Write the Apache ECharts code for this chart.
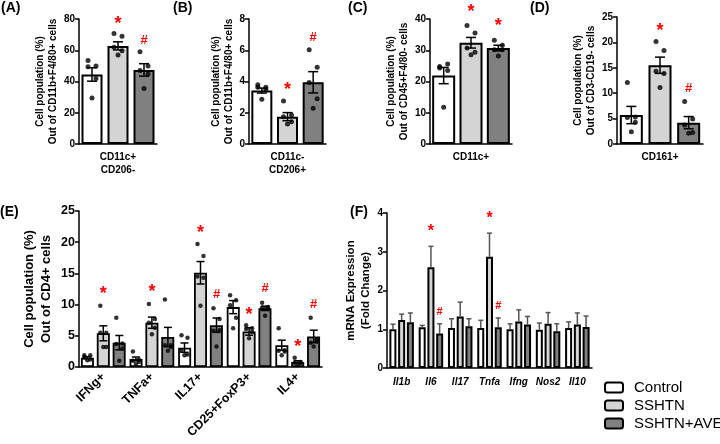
<!DOCTYPE html>
<html>
<head>
<meta charset="utf-8">
<script src="https://cdn.jsdelivr.net/npm/echarts@6/dist/echarts.min.js"></script>
<style>html,body{margin:0;padding:0;background:#fff}#container{width:720px;height:444px}</style>
</head>
<body>
<div id="container"></div>
<script>
var groups = ['Control', 'SSHTN', 'SSHTN+AVE'];

// (A) CD11c+CD206- out of CD11b+F4/80+
var aMean = [44.5, 62.8, 47.4];
var aSem = [4.3, 2.6, 4.0];
var aDots = [[53.5, 50, 49.5, 42, 29.5], [70.8, 69, 62, 59.7, 57], [59, 50, 47, 44.8, 35.6]];
var aMarks = [[1, 79, '*'], [2, 66.5, '#']];

// (B) CD11c-CD206+ out of CD11b+F4/80+
var bMean = [3.42, 1.75, 3.95];
var bSem = [0.16, 0.26, 0.68];
var bDots = [[3.64, 3.64, 3.8, 3.5, 2.87], [2.76, 1.86, 1.75, 1.43, 1.28], [6.03, 4.92, 3.94, 2.89, 2.29]];
var bMarks = [[1, 3.65, '*'], [2, 6.85, '#']];

// (C) CD11c+ out of CD45+F4/80-
var cMean = [21.9, 32.4, 30.7];
var cSem = [2.6, 1.7, 0.9];
var cDots = [[24.8, 25.6, 24.3, 23.5, 11.8], [37.9, 35.5, 30.7, 29.4, 28.6], [33.2, 31.6, 30.2, 30.2, 28.2]];
var cMarks = [[1, 43.2, '*'], [2, 38.9, '*']];

// (D) CD161+ out of CD3-CD19-
var dMean = [5.7, 15.5, 4.2];
var dSem = [1.7, 1.6, 1.2];
var dDots = [[12.1, 5.3, 5.2, 4.3, 2.4], [20.2, 18.4, 14.3, 13.9, 11.1], [8.35, 4.9, 3.75, 2.24, 2.1]];
var dMarks = [[1, 22.8, '*'], [2, 11, '#']];

// (E) out of CD4+
var eCats = ['IFNg+', 'TNFa+', 'IL17+', 'CD25+FoxP3+', 'IL4+'];
var eMean = [[1.5, 1.3, 3.1, 9.6, 3.5], [5.4, 7.1, 15.1, 5.7, 0.8], [3.9, 4.8, 6.7, 9.4, 4.9]];
var eSem = [[0.15, 0.3, 0.75, 1.05, 0.8], [1.2, 0.9, 1.8, 0.6, 0.2], [1.15, 1.55, 1.15, 0.35, 1.0]];
var eDotsCtrl = [[1.9, 1.9, 1.6, 1.2, 1.1], [2.5, 1.2, 1.0, 0.8, 0.5], [5.1, 4.7, 2.6, 2.0, 1.9], [11.5, 10.7, 9.9, 7.9, 6.2], [6.2, 2.7, 2.6, 2.5, 1.9]];
var eDotsSshtn = [[9.8, 5.5, 5.5, 3.2, 3.2], [10.1, 7.7, 7.1, 6.3, 5.25], [19.7, 17.8, 14.5, 14.3, 9.8], [6.7, 6.2, 6.1, 5.6, 4.6], [1.5, 0.8, 0.7, 0.6, 0.4]];
var eDotsAve = [[7.9, 3.75, 3.7, 2.95, 1.0], [10.8, 3.5, 3.5, 3.2, 2.6], [9.4, 7.7, 5.8, 5.9, 3.3], [10.3, 9.6, 9.5, 9.3, 8.2], [7.9, 4.4, 3.9, 4.1, 3.3]];
var eMarks = [[0, 1, 12.2, '*'], [1, 1, 12.5, '*'], [2, 1, 22, '*'], [2, 2, 11.7, '#'], [3, 1, 8.8, '*'], [3, 2, 12.6, '#'], [4, 1, 3.75, '*'], [4, 2, 10, '#']];

// (F) mRNA fold change
var fCats = ['Il1b', 'Il6', 'Il17', 'Tnfa', 'Ifng', 'Nos2', 'Il10'];
var fMean = [[1.0, 1.05, 1.03, 1.03, 1.0, 0.99, 1.03], [1.24, 2.6, 1.33, 2.87, 1.2, 1.14, 1.12], [1.18, 0.89, 1.08, 1.05, 1.12, 0.95, 1.06]];
var fSem = [[0.13, 0.05, 0.24, 0.2, 0.14, 0.17, 0.16], [0.15, 0.54, 0.37, 0.61, 0.3, 0.29, 0.3], [0.24, 0.25, 0.19, 0.24, 0.21, 0.19, 0.28]];
var fMarks = [[1, 1, 3.59, '*'], [1, 2, 1.45, '#'], [3, 1, 3.92, '*'], [3, 2, 1.61, '#']];

var FONT = 'Liberation Sans, Arial, sans-serif';
var colors = ['#ffffff', '#d4d4d4', '#808080'];
var jit = [-4, 4, -4, 4, 0];
var jitE = [-3, 3, -3, 3, 0];
var dxE = [-16, 0, 16];
var dxF = [-8.7, 0, 8.7];

var myChart = echarts.init(document.getElementById('container'));

function xSingle(i, label) {
	return {
		type: 'category', gridIndex: i, data: groups,
		axisLine: {lineStyle: {color: '#000', width: 1.5}},
		axisTick: {alignWithLabel: true, length: 4, interval: function (k) { return k === 1; }, lineStyle: {color: '#000', width: 1.5}},
		axisLabel: {interval: function (k) { return k === 1; }, formatter: function () { return label; },
			color: '#000', fontWeight: 'bold', fontSize: 10, fontFamily: FONT, lineHeight: 13, margin: 7}
	};
}
function yAx(i, max, step, name, gap, fs, nfs, lh) {
	return {
		type: 'value', gridIndex: i, min: 0, max: max, interval: step,
		name: name, nameLocation: 'middle', nameGap: gap,
		nameTextStyle: {color: '#000', fontWeight: 'bold', fontSize: nfs, fontFamily: FONT, lineHeight: lh},
		splitLine: {show: false},
		axisLine: {show: true, lineStyle: {color: '#000', width: 1.5}},
		axisTick: {show: true, length: 4, lineStyle: {color: '#000', width: 1.5}},
		axisLabel: {color: '#000', fontWeight: 'bold', fontSize: fs, fontFamily: FONT, margin: 4}
	};
}
function errBars(i, data, dx, cap, upperOnly, color) {
	return {
		type: 'custom', xAxisIndex: i, yAxisIndex: i, z: 4, silent: true, data: data,
		renderItem: function (params, api) {
			var g = api.value(3);
			var top = api.coord([api.value(0), api.value(1) + api.value(2)]);
			var bot = api.coord([api.value(0), upperOnly ? api.value(1) : api.value(1) - api.value(2)]);
			var x = top[0] + dx[g];
			var st = {stroke: color, lineWidth: 1.5};
			var ch = [
				{type: 'line', shape: {x1: x, y1: top[1], x2: x, y2: bot[1]}, style: st},
				{type: 'line', shape: {x1: x - cap, y1: top[1], x2: x + cap, y2: top[1]}, style: st}
			];
			if (!upperOnly) ch.push({type: 'line', shape: {x1: x - cap, y1: bot[1], x2: x + cap, y2: bot[1]}, style: st});
			return {type: 'group', children: ch};
		}
	};
}
function markSeries(i, list, dx, fs) {
	return {
		type: 'custom', xAxisIndex: i, yAxisIndex: i, z: 6, silent: true,
		data: list.map(function (m) { return [m[0], m[2], m[1]]; }),
		renderItem: function (params, api) {
			var p = api.coord([api.value(0), api.value(1)]);
			var t = list[params.dataIndex][3];
			var size = t === '*' ? fs + 5 : fs;
			// the asterisk glyph sits high in its box, so nudge it down
			var dy = t === '*' ? size * 0.18 : 0;
			return {type: 'text', x: p[0] + dx[api.value(2)], y: p[1] + dy,
				style: {text: t, fill: '#ff0000', font: 'bold ' + size + 'px ' + FONT,
					align: 'center', verticalAlign: 'middle'}};
		}
	};
}

var grids = [
	{left: 79, top: 19, width: 78, height: 125},
	{left: 249, top: 19, width: 77, height: 125},
	{left: 430, top: 19, width: 82, height: 125},
	{left: 617, top: 17, width: 86, height: 127},
	{left: 79, top: 211, width: 243, height: 156},
	{left: 387, top: 213, width: 205, height: 155}
];

var xAxes = [
	xSingle(0, 'CD11c+\nCD206-'),
	xSingle(1, 'CD11c-\nCD206+'),
	xSingle(2, 'CD11c+'),
	xSingle(3, 'CD161+'),
	{type: 'category', gridIndex: 4, data: eCats,
		axisLine: {lineStyle: {color: '#000', width: 1.5}},
		axisTick: {alignWithLabel: true, length: 4, lineStyle: {color: '#000', width: 1.5}},
		axisLabel: {interval: 0, rotate: 45, color: '#000', fontWeight: 'bold', fontSize: 12.5, fontFamily: FONT, margin: 8}},
	{type: 'category', gridIndex: 5, data: fCats,
		axisLine: {lineStyle: {color: '#000', width: 1.5}},
		axisTick: {alignWithLabel: true, length: 4, lineStyle: {color: '#000', width: 1.5}},
		axisLabel: {interval: 0, color: '#000', fontWeight: 'bold', fontStyle: 'italic', fontSize: 10, fontFamily: FONT, margin: 9}}
];
var yAxes = [
	yAx(0, 80, 20, 'Cell population (%)\nOut of CD11b+F4/80+ cells', 18, 10, 10, 13),
	yAx(1, 8, 2, 'Cell population (%)\nOut of CD11b+F4/80+ cells', 13, 10, 10, 13),
	yAx(2, 40, 10, 'Cell population (%)\nOut of CD45+F4/80- cells', 17, 10, 10, 13),
	yAx(3, 25, 5, 'Cell population (%)\nOut of CD3-CD19- cells', 14, 10, 10, 13),
	yAx(4, 25, 5, 'Cell population (%)\nOut of CD4+ cells', 24, 12.5, 13, 17),
	yAx(5, 4, 1, 'mRNA Expression\n(Fold Change)', 14, 10, 11.5, 15)
];

var series = [];
var single = [[aMean, aSem, aDots, aMarks], [bMean, bSem, bDots, bMarks], [cMean, cSem, cDots, cMarks], [dMean, dSem, dDots, dMarks]];
single.forEach(function (p, i) {
	series.push({
		type: 'bar', name: 'panel' + i, xAxisIndex: i, yAxisIndex: i, barWidth: i < 2 ? 21 : 23, z: 2,
		itemStyle: {borderColor: '#000', borderWidth: 2},
		data: p[0].map(function (v, k) { return {value: v, itemStyle: {color: colors[k]}}; })
	});
	series.push(errBars(i, p[1].map(function (s, k) { return [k, p[0][k], s, 0]; }), [0], 5, false, '#000'));
	var pts = [];
	p[2].forEach(function (arr, k) {
		arr.forEach(function (v, j) { pts.push({value: [k, v], symbolOffset: [jit[j], 0]}); });
	});
	series.push({type: 'scatter', name: 'dots' + i, xAxisIndex: i, yAxisIndex: i, z: 5, symbolSize: 5,
		itemStyle: {color: '#000'}, data: pts, silent: true});
	series.push(markSeries(i, p[3].map(function (m) { return [m[0], m[0], m[1], m[2]]; }), [0, 0, 0], 13));
});

var eDots = [eDotsCtrl, eDotsSshtn, eDotsAve];
groups.forEach(function (g, k) {
	series.push({type: 'bar', name: g, xAxisIndex: 4, yAxisIndex: 4, barWidth: 13, barGap: '22%', z: 2,
		itemStyle: {color: colors[k], borderColor: '#000', borderWidth: 1.8}, data: eMean[k]});
	series.push(errBars(4, eSem[k].map(function (s, c) { return [c, eMean[k][c], s, k]; }), dxE, 4, false, '#000'));
	var pts = [];
	eDots[k].forEach(function (arr, c) {
		arr.forEach(function (v, j) { pts.push({value: [c, v], symbolOffset: [dxE[k] + jitE[j], 0]}); });
	});
	series.push({type: 'scatter', name: 'edots' + k, xAxisIndex: 4, yAxisIndex: 4, z: 5, symbolSize: 4.5,
		itemStyle: {color: '#000'}, data: pts, silent: true});
});
series.push(markSeries(4, eMarks, dxE, 13));

groups.forEach(function (g, k) {
	series.push({type: 'bar', name: g, xAxisIndex: 5, yAxisIndex: 5, barWidth: 7, barGap: '25%', z: 3,
		itemStyle: {color: colors[k], borderColor: '#000', borderWidth: 2}, data: fMean[k]});
	series.push(errBars(5, fSem[k].map(function (s, c) { return [c, fMean[k][c], s, k]; }), dxF, 2.5, true, '#555'));
});
series.push(markSeries(5, fMarks, dxF, 11));

var letters = [['(A)', 1, 1], ['(B)', 173, 1], ['(C)', 348, 1], ['(D)', 530, 1], ['(E)', 0, 205], ['(F)', 350, 205]];

var option = {
	animation: false,
	backgroundColor: '#fff',
	textStyle: {fontFamily: FONT},
	grid: grids,
	xAxis: xAxes,
	yAxis: yAxes,
	legend: {
		data: groups, orient: 'vertical', left: 604, top: 380, padding: 0,
		itemWidth: 18, itemHeight: 10, itemGap: 3, selectedMode: false,
		itemStyle: {borderColor: '#000', borderWidth: 2},
		textStyle: {fontSize: 15, color: '#000', fontFamily: FONT, padding: [0, 0, 0, 6]}
	},
	graphic: letters.map(function (l) {
		return {type: 'text', left: l[1], top: l[2], style: {text: l[0], font: 'bold 14px ' + FONT, fill: '#000'}};
	}),
	series: series
};
myChart.setOption(option);
</script>
</body>
</html>
